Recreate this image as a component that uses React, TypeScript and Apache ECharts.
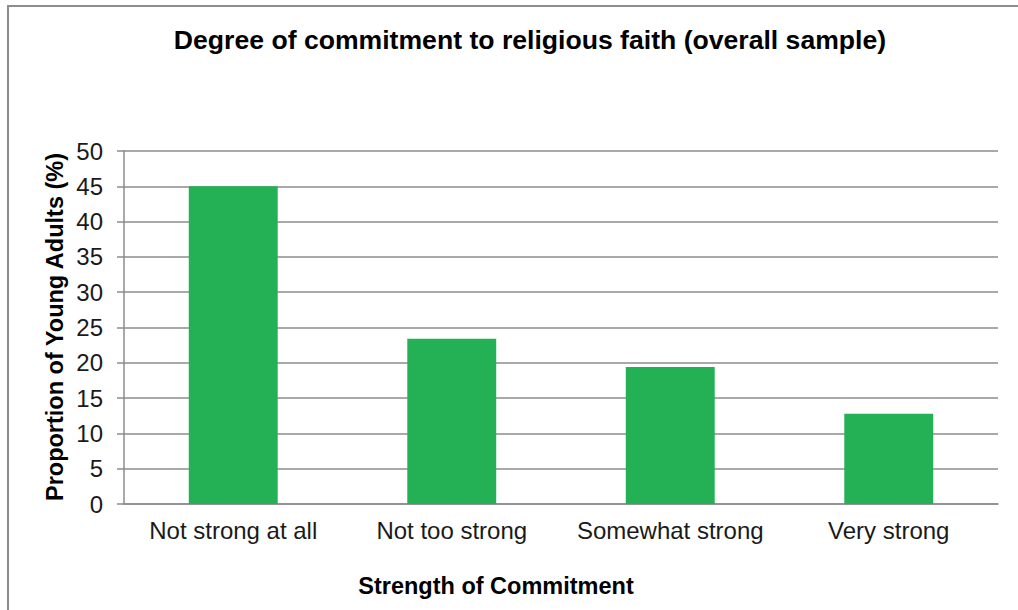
import React, { useEffect, useRef } from "react";
import * as echarts from "echarts";

const categories = ["Not strong at all", "Not too strong", "Somewhat strong", "Very strong"];
const values = [45, 23.4, 19.4, 12.8];
const yTicks = { min: 0, max: 50, interval: 5 };
const titleText = "Degree of commitment to religious faith (overall sample)";
const xName = "Strength of Commitment";
const yName = "Proportion of Young Adults (%)";

export default function App() {
  const ref = useRef<HTMLDivElement>(null);
  useEffect(() => {
    if (!ref.current) return;
    const chart = echarts.init(ref.current, null, { renderer: "svg" });
    const font = "Arial, 'Liberation Sans', sans-serif";
    const grey = "#8c8c8c";
    chart.setOption({
      animation: false,
      backgroundColor: "#ffffff",
      textStyle: { fontFamily: font },
      grid: { left: 124, right: 20, top: 151, bottom: 106, containLabel: false },
      xAxis: {
        type: "category",
        data: categories,
        axisLine: { show: true, lineStyle: { color: grey, width: 1.5 } },
        axisTick: { show: false },
        axisLabel: { fontSize: 24, color: "#1a1a1a", margin: 14, fontFamily: font, interval: 0 },
      },
      yAxis: {
        type: "value",
        min: yTicks.min,
        max: yTicks.max,
        interval: yTicks.interval,
        axisLine: { show: true, lineStyle: { color: grey, width: 1.5 } },
        axisTick: { show: true, length: 7, lineStyle: { color: grey, width: 1.5 } },
        splitLine: { show: true, lineStyle: { color: grey, width: 1.5 } },
        axisLabel: { fontSize: 24, color: "#1a1a1a", margin: 21, fontFamily: font },
      },
      series: [
        {
          type: "bar",
          data: values,
          barWidth: "40.7%",
          itemStyle: { color: "#24b155" },
        },
      ],
      graphic: [
        {
          type: "rect",
          shape: { x: 8, y: 6, width: 1200, height: 800 },
          style: { fill: "none", stroke: grey, lineWidth: 2 },
          silent: true,
          z: -10,
        },
        {
          type: "text",
          x: 530,
          y: 40,
          style: {
            text: titleText,
            font: `bold 26.6px ${font}`,
            fill: "#000",
            textAlign: "center",
            textVerticalAlign: "middle",
          },
        },
        {
          type: "text",
          x: 496,
          y: 586,
          style: {
            text: xName,
            font: `bold 23.5px ${font}`,
            fill: "#000",
            textAlign: "center",
            textVerticalAlign: "middle",
          },
        },
        {
          type: "text",
          x: 55,
          y: 327,
          rotation: Math.PI / 2,
          style: {
            text: yName,
            font: `bold 23.5px ${font}`,
            fill: "#000",
            textAlign: "center",
            textVerticalAlign: "middle",
          },
        },
      ],
    });
    return () => chart.dispose();
  }, []);
  return (
    <div
      ref={ref}
      style={{ position: "absolute", left: 0, top: 0, width: 1018, height: 610 }}
    />
  );
}
